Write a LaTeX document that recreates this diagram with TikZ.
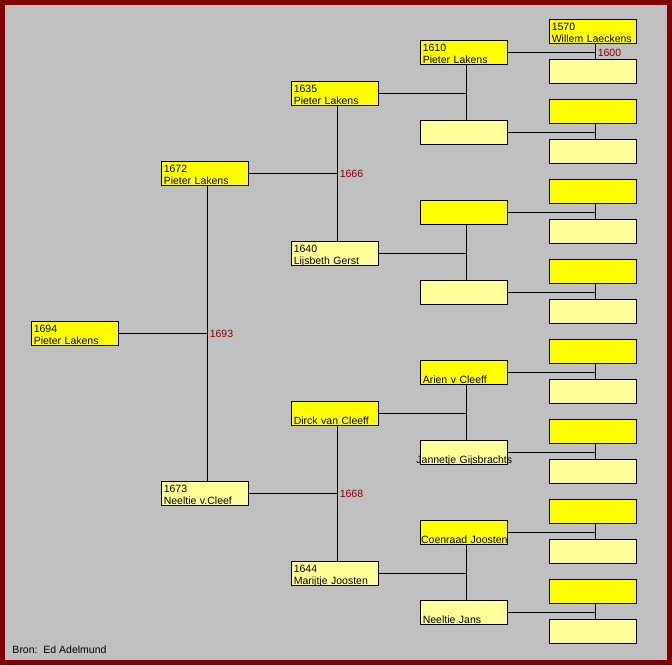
\documentclass[tikz,border=0pt]{standalone}
\usepackage{fontspec}
\setmainfont{Liberation Sans}
\definecolor{geel}{HTML}{FFFF00}
\definecolor{lichtgeel}{HTML}{FFFF99}
\definecolor{grijs}{HTML}{C0C0C0}
\definecolor{donkerrood}{HTML}{800000}
\begin{document}
\begin{tikzpicture}[x=1pt, y=-1pt, line width=1pt,
    font=\fontsize{10.5}{12}\selectfont,
    persoon/.style={draw, anchor=north west, text width=83pt, align=left,
        inner xsep=2pt, inner ysep=1pt, text height=9.5pt, text depth=12.5pt},
    man/.style={persoon, fill=geel},
    vrouw/.style={persoon, fill=lichtgeel},
    jaar/.style={right, inner sep=2pt, text=donkerrood}]
    \useasboundingbox (0,0) rectangle (672,665);
    \fill[donkerrood] (0,0) rectangle (672,665);
    \fill[grijs] (5,5) rectangle (667,660);

    % kwartierstaat, nummering volgens Ahnentafel
    \node[man] (a1) at (31.3,321.3) {1694\\Pieter Lakens};

    \node[man] (a2) at (161.3,161.3) {1672\\Pieter Lakens};
    \node[vrouw] (a3) at (161.3,481.3) {1673\\Neeltie v.Cleef};

    \node[man] (a4) at (291.3,81) {1635\\Pieter Lakens};
    \node[vrouw] (a5) at (291.3,241) {1640\\Lijsbeth Gerst};
    \node[man] (a6) at (291.3,401) {\mbox{}\\Dirck van Cleeff};
    \node[vrouw] (a7) at (291.3,561) {1644\\Marijtje Joosten};

    \node[man] (a8) at (420.3,40.3) {1610\\Pieter Lakens};
    \node[vrouw] (a9) at (420.3,120.3) {};
    \node[man] (a10) at (420.3,200.3) {};
    \node[vrouw] (a11) at (420.3,280.3) {};
    \node[man] (a12) at (420.3,360.3) {\mbox{}\\Arien v Cleeff};
    \node[vrouw] (a13) at (420.3,440.3) {\mbox{}\\\makebox[\linewidth]{Jannetje Gijsbrachts}};
    \node[man] (a14) at (420.3,520.3) {\mbox{}\\\makebox[\linewidth]{Coenraad Joosten}};
    \node[vrouw] (a15) at (420.3,600.3) {\mbox{}\\Neeltie Jans};

    \node[man] (a16) at (549.3,19.3) {1570\\Willem Laeckens};
    \foreach \n in {18,20,...,30}
        \node[man] (a\n) at (549.3,{19.3+40*(\n-16)}) {};
    \foreach \n in {17,19,...,31}
        \node[vrouw] (a\n) at (549.3,{19.3+40*(\n-16)}) {};

    % verbindingen kind -> ouders
    \foreach \n [evaluate=\n as \v using int(2*\n), evaluate=\n as \m using int(2*\n+1)] in {1,...,15} {
        \draw ([xshift=2pt]a\v.south) -- ([xshift=2pt]a\m.north);
        \coordinate (j\n) at ([xshift=2pt]a\n.east -| a\v.south);
        \draw (a\n.east) -- (j\n);
    }

    \node[jaar] (h1) at (j1) {1693};
    \node[jaar] (h2) at (j2) {1666};
    \node[jaar] (h3) at (j3) {1668};
    \node[jaar] (h8) at (j8) {1600};

    \node[anchor=base west, inner sep=0pt] (bron) at (12,653) {Bron:\ \ Ed Adelmund};
\end{tikzpicture}
\end{document}
